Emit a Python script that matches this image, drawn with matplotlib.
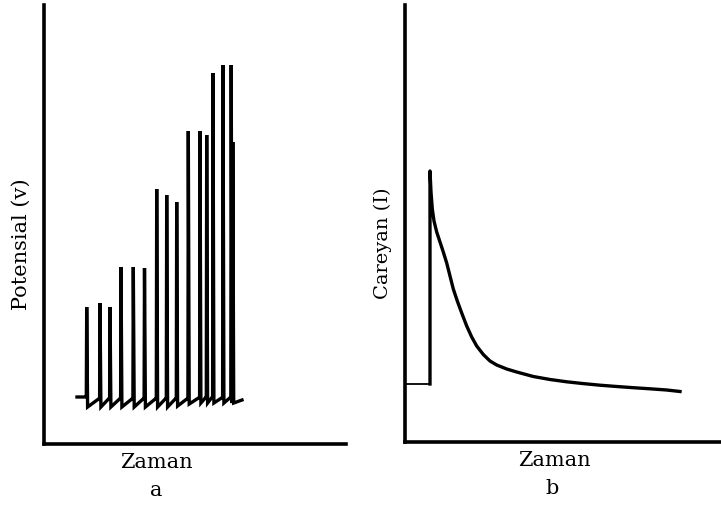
import matplotlib.pyplot as plt

# ---- panel a: potential spikes (time, peak, trough after spike, level before spike)
spike_t = [42.7, 56.0, 66.0, 77.0, 89.3, 100.5, 112.7, 122.7, 132.7, 144.3, 156.0, 162.7, 169.0, 179.0, 187.2, 188.8]
spike_peak = [137, 141, 137, 177, 177, 176, 255, 249, 242, 313, 313, 309, 371, 379, 379, 302]
spike_trough = [37, 37, 37, 37, 37, 37, 37, 37, 38, 40, 41, 41, 41, 41, 41, 41]
spike_pre = [47, 45, 45, 45, 45, 45, 45, 45, 45, 45, 46, 46, 46, 46, 46, 46]
a_start = (33, 47)
a_end = (198, 44)

# ---- panel b: current transient
b_base_x = [1, 25.5]
b_base_y = [58, 58]
b_x = [25.5, 25.5, 26.5, 27.8, 29.5, 32.2, 35.5, 38.8, 42.2, 45.5, 48.8, 52.8, 57.2, 62.2,
       67.2, 72.2, 78.8, 85.5, 92.2, 102.2, 112.2, 128.8, 145.5, 162.2, 178.8, 195.5,
       212.2, 228.8, 245.5, 262.2, 275.5]
b_y = [58, 271, 250, 233, 221, 210, 200, 190, 179, 166, 153, 141, 129, 116,
       105, 96, 87.5, 81, 77, 73, 70, 65.5, 62.5, 60.2, 58.4, 56.8,
       55.5, 54.3, 53.2, 52, 50.5]

W, H = 721, 505
fig = plt.figure(figsize=(W / 100, H / 100), dpi=100)
fig.patch.set_facecolor("white")


def px_axes(x0, y_bottom, w, h):
    # pixel box -> figure fraction
    return fig.add_axes([x0 / W, 1 - y_bottom / H, w / W, h / H])


def style(ax):
    for s in ("top", "right"):
        ax.spines[s].set_visible(False)
    for s in ("left", "bottom"):
        ax.spines[s].set_linewidth(2.6)
        ax.spines[s].set_color("black")
    ax.set_xticks([])
    ax.set_yticks([])
    ax.patch.set_alpha(0)


# panel a
ax1 = px_axes(44, 444, 302, 439)
style(ax1)
ax1.set_xlim(0, 302)
ax1.set_ylim(0, 439)

xs = [a_start[0], spike_t[0] - 2.0]
ys = [a_start[1], a_start[1]]
for i, t in enumerate(spike_t):
    xs += [t - 0.4, t, t + 0.9]
    ys += [spike_pre[i], spike_peak[i], spike_trough[i]]
    if i + 1 < len(spike_t):
        xs.append(spike_t[i + 1] - 1.5)
        ys.append(spike_pre[i + 1])
xs.append(a_end[0])
ys.append(a_end[1])
ax1.plot(xs, ys, color="black", lw=2.4, solid_joinstyle="miter")

# panel b
ax2 = px_axes(404.5, 442, 315, 437)
style(ax2)
ax2.set_xlim(0, 315)
ax2.set_ylim(0, 437)
ax2.plot(b_base_x, b_base_y, color="black", lw=1.3)
ax2.plot(b_x, b_y, color="black", lw=2.4, solid_joinstyle="round")

# texts (pixel positions)
font = dict(family="DejaVu Serif", color="black")


def ptext(x, y, s, size, rot=0):
    fig.text(x / W, 1 - y / H, s, fontsize=size, rotation=rot,
             ha="center", va="center", **font)


ptext(21, 244, "Potensial (v)", 15, rot=90)
ptext(383, 243, "Careyan (I)", 14, rot=90)
ptext(156, 463, "Zaman", 15)
ptext(554, 460, "Zaman", 15)
ptext(156, 490, "a", 15)
ptext(552, 488, "b", 15)

fig.savefig("out.png", dpi=100, facecolor="white")
